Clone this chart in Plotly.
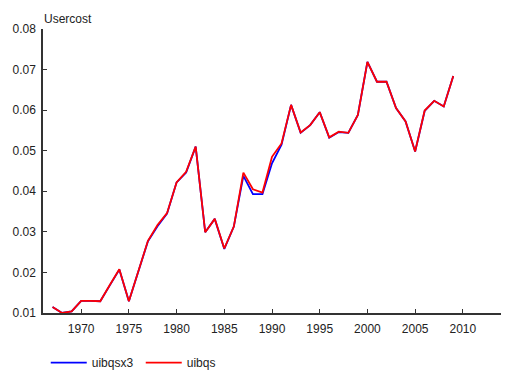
import plotly.graph_objects as go

# Annual user cost series, 1967-2009
years = list(range(1967, 2010))

uibqsx3 = [0.0115, 0.0100, 0.0104, 0.0130, 0.0130, 0.0129, 0.0168, 0.0207, 0.0129,
           0.0204, 0.0277, 0.0314, 0.0345, 0.0422, 0.0446, 0.0510, 0.0299, 0.0332,
           0.0258, 0.0313, 0.0438, 0.0393, 0.0393, 0.0469, 0.0515, 0.0613, 0.0544,
           0.0563, 0.0595, 0.0532, 0.0546, 0.0544, 0.0588, 0.0719, 0.0670, 0.0670,
           0.0605, 0.0572, 0.0498, 0.0598, 0.0623, 0.0609, 0.0684]

uibqs = [0.0115, 0.0100, 0.0104, 0.0130, 0.0130, 0.0129, 0.0169, 0.0208, 0.0129,
         0.0205, 0.0278, 0.0317, 0.0346, 0.0422, 0.0448, 0.0510, 0.0299, 0.0332,
         0.0259, 0.0313, 0.0446, 0.0405, 0.0397, 0.0485, 0.0518, 0.0613, 0.0545,
         0.0563, 0.0595, 0.0533, 0.0547, 0.0544, 0.0588, 0.0719, 0.0670, 0.0670,
         0.0605, 0.0572, 0.0498, 0.0599, 0.0623, 0.0609, 0.0684]

y_ticks = [0.01, 0.02, 0.03, 0.04, 0.05, 0.06, 0.07, 0.08]
x_ticks = [1970, 1975, 1980, 1985, 1990, 1995, 2000, 2005, 2010]

font_family = "Liberation Sans, Arial, sans-serif"
fsize = 12

fig = go.Figure()
fig.add_trace(go.Scatter(x=years, y=uibqsx3, mode="lines", name="uibqsx3",
                         line=dict(color="#0000ff", width=1.8)))
fig.add_trace(go.Scatter(x=years, y=uibqs, mode="lines", name="uibqs",
                         line=dict(color="#ff0000", width=1.8)))

axis_common = dict(showgrid=False, zeroline=False, showline=True,
                   linecolor="#333333", linewidth=1.5,
                   ticks="inside", ticklen=4, tickwidth=1, tickcolor="#333333",
                   tickfont=dict(family=font_family, size=fsize, color="#222222"))

fig.update_xaxes(range=[1966, 2014], tickvals=x_ticks,
                 ticktext=[str(v) for v in x_ticks], ticklabelstandoff=4,
                 **axis_common)
fig.update_yaxes(range=[0.01, 0.08], tickvals=y_ticks,
                 ticktext=[f"{v:.2f}" for v in y_ticks], ticklabelstandoff=3,
                 **axis_common)

fig.update_layout(
    width=509, height=378,
    margin=dict(l=43, r=8, t=29, b=65, autoexpand=False),
    paper_bgcolor="white", plot_bgcolor="white",
    font=dict(family=font_family, size=fsize, color="#222222"),
    title=dict(text="Usercost", x=0, xref="paper", xanchor="left",
               y=1, yref="paper", yanchor="bottom", pad=dict(b=6, l=1),
               font=dict(family=font_family, size=fsize, color="#222222")),
    legend=dict(orientation="h", x=0.006, y=-0.175, xanchor="left", yanchor="middle",
                itemwidth=36, entrywidth=44, entrywidthmode="pixels",
                font=dict(family=font_family, size=fsize, color="#222222"),
                bgcolor="rgba(0,0,0,0)", traceorder="normal"),
)

fig.write_html("out.html")
